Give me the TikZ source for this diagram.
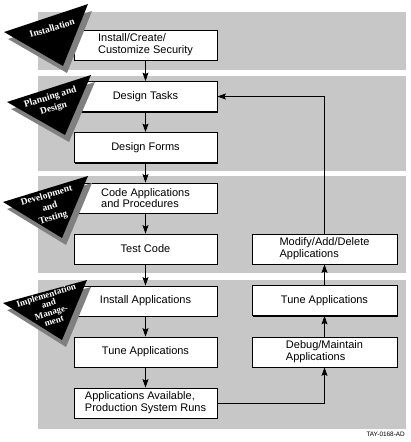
\documentclass[tikz,border=0pt]{standalone}
\usepackage{fontspec}
\setmainfont{Liberation Serif}
\setsansfont{Liberation Sans}
\usetikzlibrary{arrows.meta,shadows}
\begin{document}
\begin{tikzpicture}[x=1pt,y=-1pt,
 band/.style={fill=black!22},
 tri/.style={fill=black},
 trishadow/.style={fill=black!50},
 trilabel/.style={text=white,font=\bfseries\fontsize{9.5}{11.5}\selectfont,align=center,rotate=17,inner sep=0pt},
 stepbox/.style={draw=black,line width=0.8pt,fill=white,minimum width=143pt,minimum height=30pt,inner sep=0pt,align=left,
   font=\sffamily\fontsize{11}{11.8}\selectfont,
   drop shadow={shadow xshift=1.3pt,shadow yshift=-1.3pt,fill=black,opacity=1}},
 flow/.style={line width=0.8pt,-{Stealth[length=8.5pt,width=6pt,inset=1.5pt]}}
]
\useasboundingbox (0,0) rectangle (410,442);
% bands
\fill[band] (38,12) rectangle (406,70);
\fill[band] (38,76) rectangle (406,171);
\fill[band] (38,176) rectangle (406,273);
\fill[band] (38,280) rectangle (406,429);
% left column
\node[stepbox] (b1) at (145.5,45) {Install/Create/\\Customize Security};
\node[stepbox] (b2) at (145.5,96.5) {Design Tasks};
\node[stepbox] (b3) at (145.5,147.5) {Design Forms};
\node[stepbox] (b4) at (145.5,198) {Code Applications\\and Procedures};
\node[stepbox] (b5) at (145.5,249) {Test Code};
\node[stepbox] (b6) at (145.5,301) {Install Applications};
\node[stepbox] (b7) at (145.5,352) {Tune Applications};
\node[stepbox] (b8) at (145.5,403) {Applications Available,\\Production System Runs};
% right column
\node[stepbox,minimum width=145pt] (r1) at (324.5,249) {Modify/Add/Delete\\Applications};
\node[stepbox,minimum width=145pt] (r2) at (324.5,300.5) {Tune Applications};
\node[stepbox,minimum width=145pt] (r3) at (324.5,352) {Debug/Maintain\\Applications};
% triangles
\fill[trishadow,shift={(4,7)}] (4,32) -- (88,4) -- (63,66) -- cycle;
\fill[tri] (4,32) -- (88,4) -- (63,66) -- cycle;
\fill[trishadow,shift={(4,7)}] (7,102) -- (91,75) -- (65,135) -- cycle;
\fill[tri] (7,102) -- (91,75) -- (65,135) -- cycle;
\fill[trishadow,shift={(4,7)}] (3,202) -- (88,176) -- (62,238) -- cycle;
\fill[tri] (3,202) -- (88,176) -- (62,238) -- cycle;
\fill[trishadow,shift={(4,7)}] (3,303) -- (87,280) -- (62,340) -- cycle;
\fill[tri] (3,303) -- (87,280) -- (62,340) -- cycle;
\node[trilabel] (t1) at (52,28) {Installation};
\node[trilabel] (t2) at (52,103) {Planning and\\Design};
\node[trilabel] (t3) at (50,207) {Development\\and\\Testing};
\node[trilabel,font=\bfseries\fontsize{9}{9}\selectfont] (t4) at (50,308) {Implementation\\and\\Manage-\\ment};
% arrows
\draw[flow] (b1.south) -- (b2.north);
\draw[flow] (b2.south) -- (b3.north);
\draw[flow] (b3.south) -- (b4.north);
\draw[flow] (b4.south) -- (b5.north);
\draw[flow] (b5.south) -- (b6.north);
\draw[flow] (b6.south) -- (b7.north);
\draw[flow] (b7.south) -- (b8.north);
\draw[flow] (b8.east) -| (r3.south);
\draw[flow] (r3.north) -- (r2.south);
\draw[flow] (r2.north) -- (r1.south);
\draw[flow] (r1.north) |- (b2.east);
% footer
\node[anchor=east,inner sep=0pt,font=\sffamily\fontsize{6.4}{7}\selectfont] (code) at (405,434) {TAY-0168-AD};
\end{tikzpicture}
\end{document}
